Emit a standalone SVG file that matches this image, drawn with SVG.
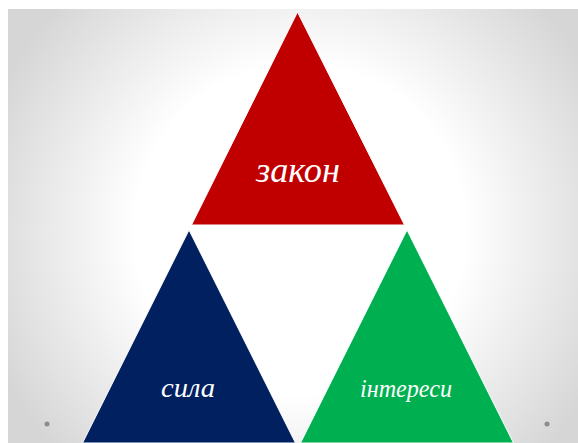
<svg xmlns="http://www.w3.org/2000/svg" width="578" height="443" viewBox="0 0 578 443">
  <defs>
    <radialGradient id="bg" cx="300" cy="230" r="330" gradientUnits="userSpaceOnUse">
      <stop offset="0" stop-color="#ffffff"/>
      <stop offset="0.5" stop-color="#ffffff"/>
      <stop offset="1" stop-color="#d6d6d6"/>
    </radialGradient>
  </defs>
  <style>
    .tri { stroke: #ffffff; stroke-width: 1; }
    .lbl { font-family: "Liberation Serif", serif; font-style: italic; fill: #ffffff; text-anchor: middle; }
    .dot { fill: #8c8c8c; }
  </style>
  <rect x="0" y="0" width="578" height="443" fill="#ffffff"/>
  <rect x="8" y="9" width="570" height="434" fill="url(#bg)"/>
  <g id="node-zakon">
    <polygon class="tri" points="297.5,12 191.5,225 404.5,225" fill="#c00000"/>
    <text class="lbl" x="298" y="182" font-size="36" textLength="84" lengthAdjust="spacingAndGlyphs">закон</text>
  </g>
  <g id="node-syla">
    <polygon class="tri" points="189,230 82.5,443 295.5,443" fill="#002060"/>
    <text class="lbl" x="188" y="397" font-size="28" textLength="54" lengthAdjust="spacingAndGlyphs">сила</text>
  </g>
  <g id="node-interesy">
    <polygon class="tri" points="407,230 300.5,443 513.5,443" fill="#00b050"/>
    <text class="lbl" x="406" y="397" font-size="26" textLength="92" lengthAdjust="spacingAndGlyphs">інтереси</text>
  </g>
  <g id="connectors"></g>
  <circle class="dot" cx="47" cy="424" r="2.5"/>
  <circle class="dot" cx="547" cy="424" r="2.5"/>
</svg>
